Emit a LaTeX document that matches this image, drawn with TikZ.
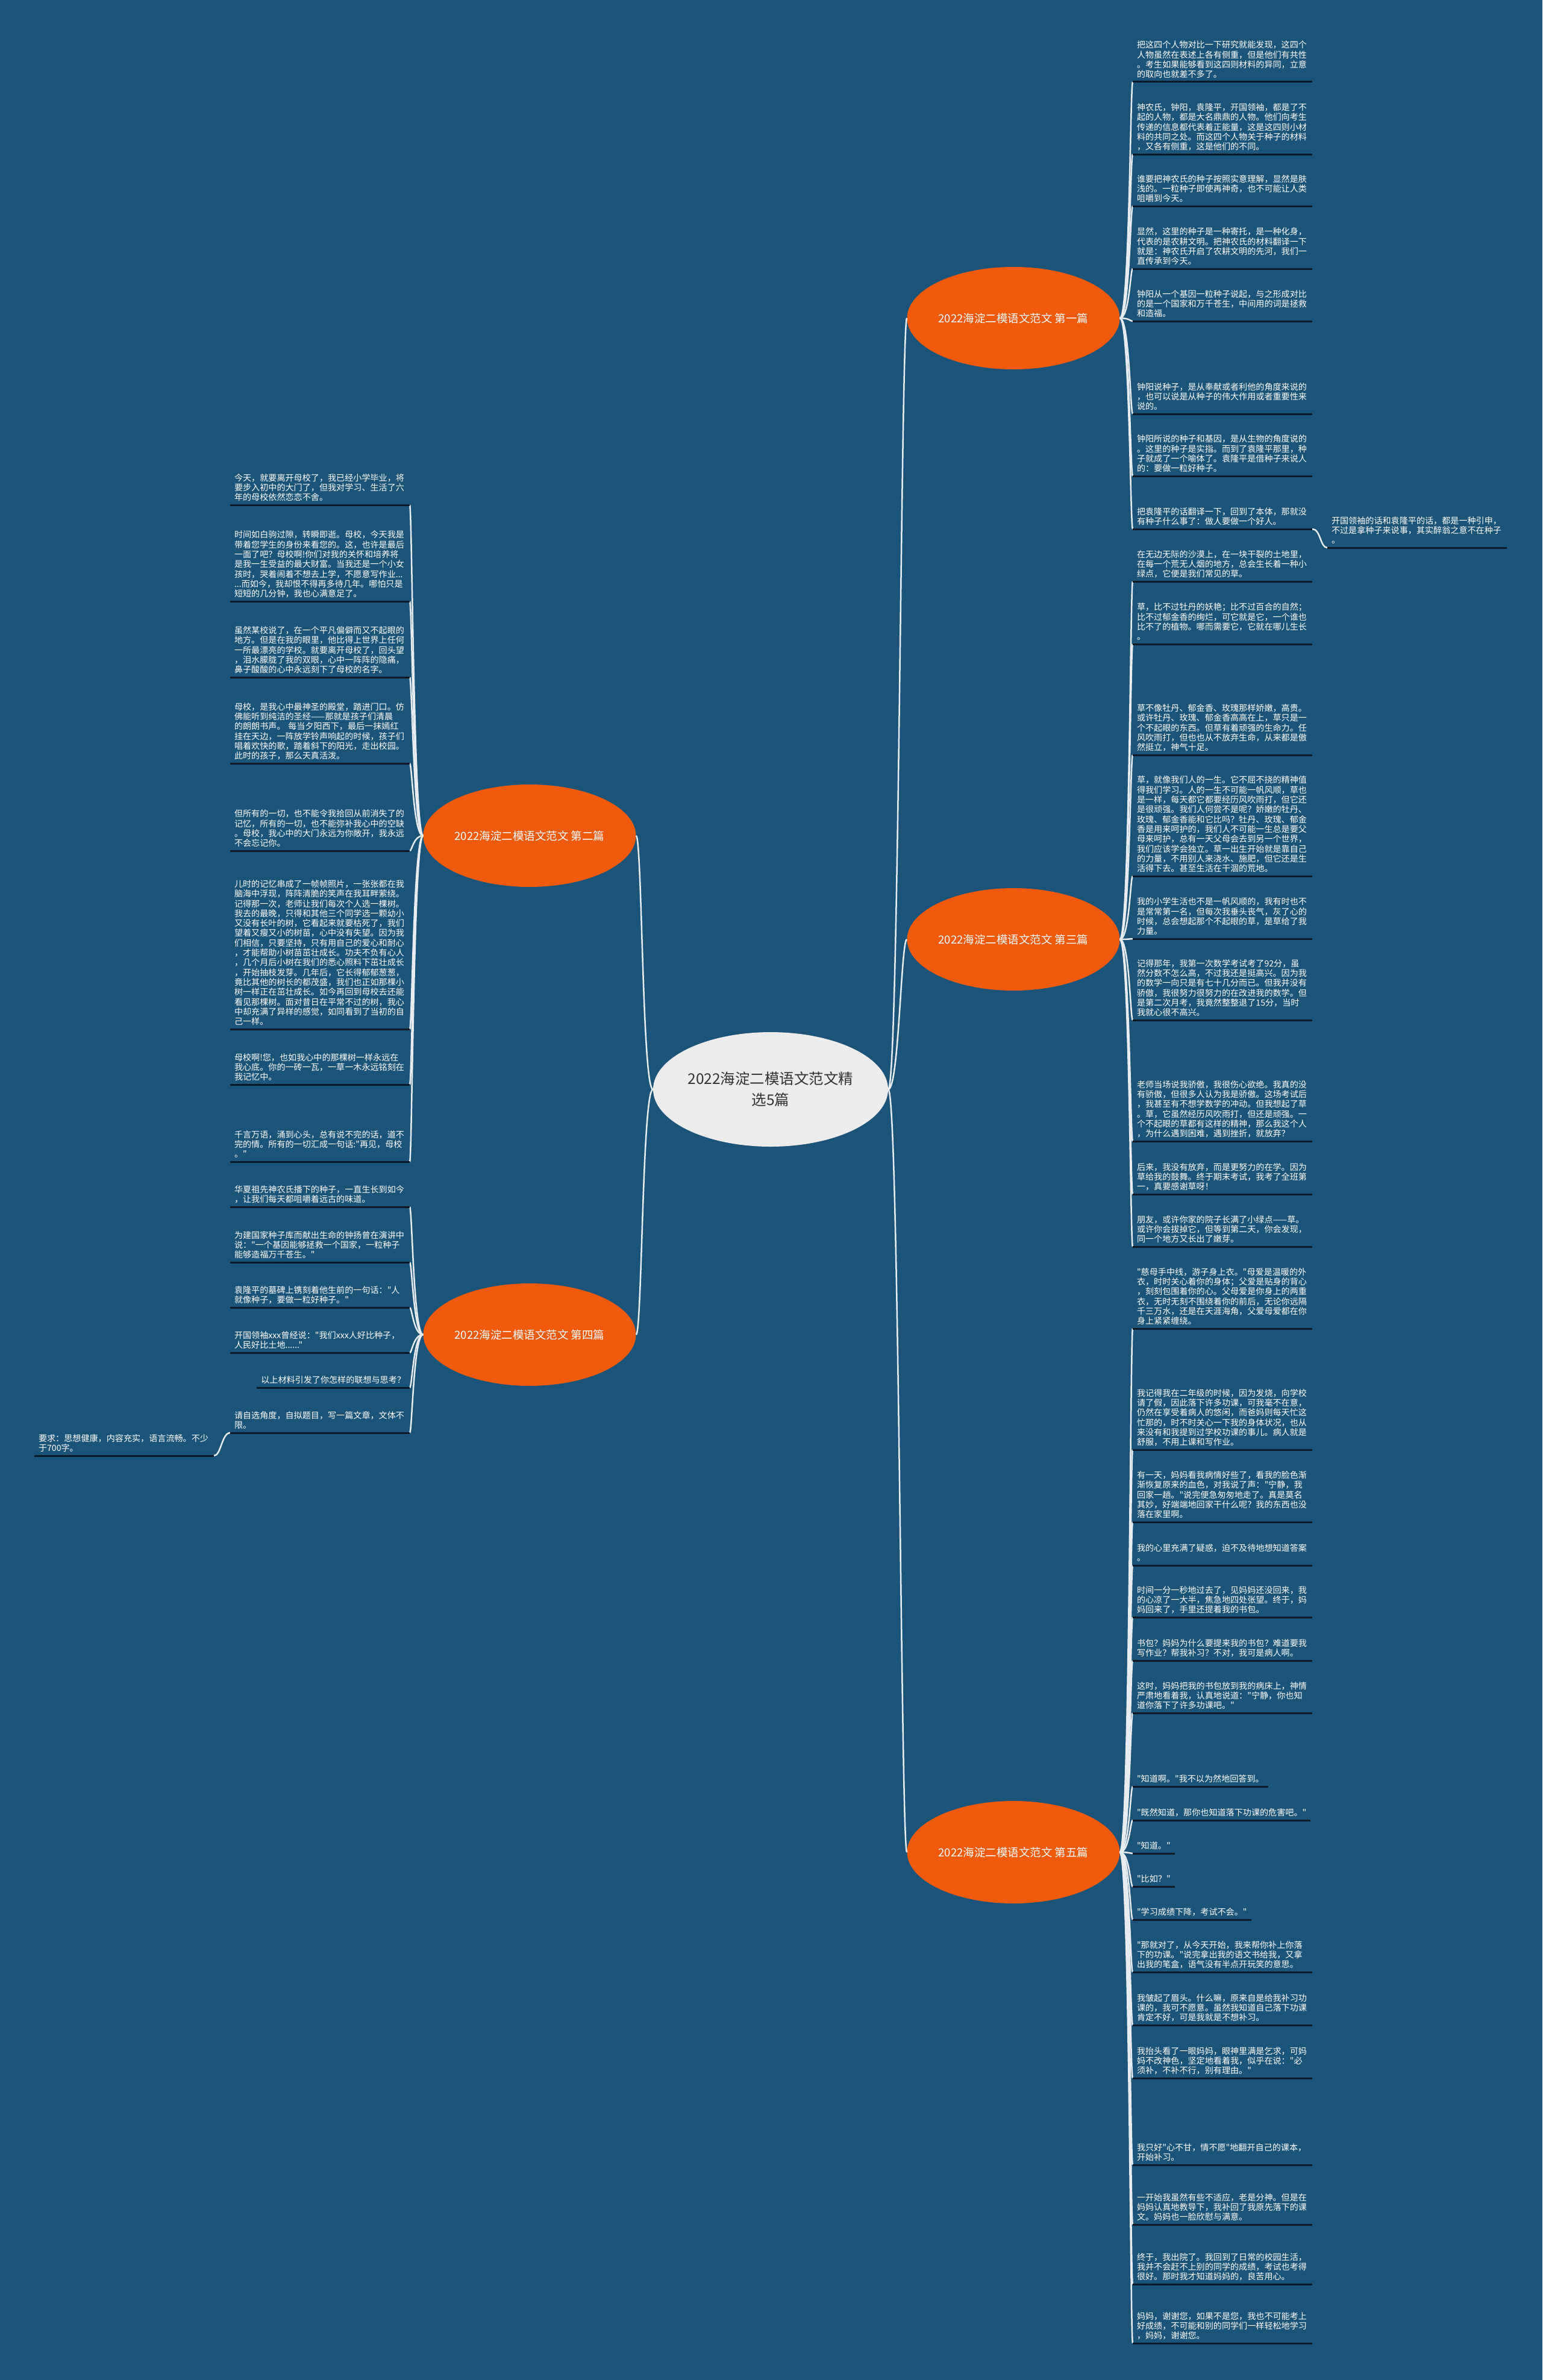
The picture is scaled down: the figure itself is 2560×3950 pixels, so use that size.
\documentclass[tikz,border=0pt]{standalone}
\usepackage{fontspec}
\newfontfamily\cjk{Noto Sans CJK SC}
\usetikzlibrary{shapes.geometric}
\definecolor{bg}{RGB}{27,84,120}
\definecolor{org}{RGB}{240,90,12}
\definecolor{cgray}{RGB}{236,236,236}
\definecolor{ulc}{RGB}{12,26,38}
\definecolor{cnc}{RGB}{230,236,240}
\begin{document}
\begin{tikzpicture}[x=1pt,y=-1pt,
 leafbase/.style={inner xsep=7pt, inner ysep=2.5pt, outer sep=0pt, align=left, text=white, font=\cjk\fontsize{14.1}{16.3}\selectfont, execute at end node=\strut},
 rl/.style={leafbase, text width=284pt, anchor=south west},
 rls/.style={leafbase, anchor=south west},
 ll/.style={leafbase, text width=284pt, anchor=south east},
 lls/.style={leafbase, anchor=south east},
 sect/.style={ellipse, fill=org, minimum width=353pt, minimum height=170pt, inner sep=0pt, text=white, font=\cjk\fontsize{18.5}{22}\selectfont},
 hub/.style={ellipse, fill=cgray, minimum width=390pt, minimum height=190pt, inner sep=0pt, text=black!80, align=center, font=\cjk\fontsize{24.5}{35}\selectfont},
 ul/.style={draw=ulc, line width=3pt},
 cn/.style={draw=cnc, line width=2.5pt},
]
\fill[bg] (0,0) rectangle (2560,3950);
\useasboundingbox (0,0) rectangle (2560,3950);

% hub and sections
\node[hub] (c) at (1279,1808) {2022海淀二模语文范文精\\选5篇};
\node[sect] (s1) at (1682,528) {2022海淀二模语文范文 第一篇};
\node[sect] (s3) at (1682,1559) {2022海淀二模语文范文 第三篇};
\node[sect] (s5) at (1682,3074) {2022海淀二模语文范文 第五篇};
\node[sect] (s2) at (879,1387) {2022海淀二模语文范文 第二篇};
\node[sect] (s4) at (879,2215) {2022海淀二模语文范文 第四篇};

% section 1 leaves
\node[rl] (r1) at (1880,136) {把这四个人物对比一下研究就能发现，这四个\\人物虽然在表述上各有侧重，但是他们有共性\\。考生如果能够看到这四则材料的异同，立意\\的取向也就差不多了。};
\node[rl] (r2) at (1880,256) {神农氏，钟阳，袁隆平，开国领袖，都是了不\\起的人物，都是大名鼎鼎的人物。他们向考生\\传递的信息都代表着正能量，这是这四则小材\\料的共同之处。而这四个人物关于种子的材料\\，又各有侧重，这是他们的不同。};
\node[rl] (r3) at (1880,342) {谁要把神农氏的种子按照实意理解，显然是肤\\浅的。一粒种子即使再神奇，也不可能让人类\\咀嚼到今天。};
\node[rl] (r4) at (1880,446) {显然，这里的种子是一种寄托，是一种化身，\\代表的是农耕文明。把神农氏的材料翻译一下\\就是：神农氏开启了农耕文明的先河，我们一\\直传承到今天。};
\node[rl] (r5) at (1880,533) {钟阳从一个基因一粒种子说起，与之形成对比\\的是一个国家和万千苍生，中间用的词是拯救\\和造福。};
\node[rl] (r6) at (1880,687) {钟阳说种子，是从奉献或者利他的角度来说的\\，也可以说是从种子的伟大作用或者重要性来\\说的。};
\node[rl] (r7) at (1880,790) {钟阳所说的种子和基因，是从生物的角度说的\\。这里的种子是实指。而到了袁隆平那里，种\\子就成了一个喻体了。袁隆平是借种子来说人\\的：要做一粒好种子。};
\node[rl] (r8) at (1880,878) {把袁隆平的话翻译一下，回到了本体，那就没\\有种子什么事了：做人要做一个好人。};
\node[rl] (fr) at (2203,909) {开国领袖的话和袁隆平的话，都是一种引申，\\不过是拿种子来说事，其实醉翁之意不在种子\\。};

% section 3 leaves
\node[rl] (r9) at (1880,965) {在无边无际的沙漠上，在一块干裂的土地里，\\在每一个荒无人烟的地方，总会生长着一种小\\绿点，它便是我们常见的草。};
\node[rl] (r10) at (1880,1069) {草，比不过牡丹的妖艳；比不过百合的自然；\\比不过郁金香的绚烂，可它就是它，一个谁也\\比不了的植物。哪而需要它，它就在哪儿生长\\。};
\node[rl] (r11) at (1880,1253) {草不像牡丹、郁金香、玫瑰那样娇嫩，高贵。\\或许牡丹、玫瑰、郁金香高高在上，草只是一\\个不起眼的东西。但草有着顽强的生命力。任\\风吹雨打，但也也从不放弃生命，从来都是傲\\然挺立，神气十足。};
\node[rl] (r12) at (1880,1454) {草，就像我们人的一生。它不屈不挠的精神值\\得我们学习。人的一生不可能一帆风顺，草也\\是一样，每天都它都要经历风吹雨打，但它还\\是很顽强。我们人何尝不是呢？娇嫩的牡丹、\\玫瑰、郁金香能和它比吗？牡丹、玫瑰、郁金\\香是用来呵护的，我们人不可能一生总是要父\\母来呵护，总有一天父母会去到另一个世界，\\我们应该学会独立。草一出生开始就是靠自己\\的力量，不用别人来浇水、施肥，但它还是生\\活得下去。甚至生活在干涸的荒地。};
\node[rl] (r13) at (1880,1558) {我的小学生活也不是一帆风顺的，我有时也不\\是常常第一名，但每次我垂头丧气，灰了心的\\时候，总会想起那个不起眼的草，是草给了我\\力量。};
\node[rl] (r14) at (1880,1693) {记得那年，我第一次数学考试考了92分，虽\\然分数不怎么高，不过我还是挺高兴。因为我\\的数学一向只是有七十几分而已。但我并没有\\骄傲，我很努力很努力的在改进我的数学。但\\是第二次月考，我竟然整整退了15分，当时\\我就心很不高兴。};
\node[rl] (r15) at (1880,1894) {老师当场说我骄傲，我很伤心欲绝。我真的没\\有骄傲，但很多人认为我是骄傲。这场考试后\\，我甚至有不想学数学的冲动。但我想起了草\\。草，它虽然经历风吹雨打，但还是顽强。一\\个不起眼的草都有这样的精神，那么我这个人\\，为什么遇到困难，遇到挫折，就放弃？};
\node[rl] (r16) at (1880,1982) {后来，我没有放弃，而是更努力的在学。因为\\草给我的鼓舞。终于期末考试，我考了全班第\\一，真要感谢草呀！};
\node[rl] (r17) at (1880,2069) {朋友，或许你家的院子长满了小绿点——草。\\或许你会拔掉它，但等到第二天，你会发现，\\同一个地方又长出了嫩芽。};

% section 5 leaves
\node[rl] (r18) at (1880,2205) {"慈母手中线，游子身上衣。"母爱是温暖的外\\衣，时时关心着你的身体；父爱是贴身的背心\\，刻刻包围着你的心。父母爱是你身上的两重\\衣，无时无刻不围绕着你的前后，无论你远隔\\千三万水，还是在天涯海角，父爱母爱都在你\\身上紧紧缠绕。};
\node[rl] (r19) at (1880,2406) {我记得我在二年级的时候，因为发烧，向学校\\请了假，因此落下许多功课，可我毫不在意，\\仍然在享受着病人的悠闲，而爸妈则每天忙这\\忙那的，时不时关心一下我的身体状况，也从\\来没有和我提到过学校功课的事儿。病人就是\\舒服，不用上课和写作业。};
\node[rl] (r20) at (1880,2526) {有一天，妈妈看我病情好些了，看我的脸色渐\\渐恢复原来的血色，对我说了声："宁静，我\\回家一趟。"说完便急匆匆地走了。真是莫名\\其妙，好端端地回家干什么呢？我的东西也没\\落在家里啊。};
\node[rl] (r21) at (1880,2598) {我的心里充满了疑惑，迫不及待地想知道答案\\。};
\node[rl] (r22) at (1880,2684) {时间一分一秒地过去了，见妈妈还没回来，我\\的心凉了一大半，焦急地四处张望。终于，妈\\妈回来了，手里还提着我的书包。};
\node[rl] (r23) at (1880,2756) {书包？妈妈为什么要提来我的书包？难道要我\\写作业？帮我补习？不对，我可是病人啊。};
\node[rl] (r24) at (1880,2843) {这时，妈妈把我的书包放到我的病床上，神情\\严肃地看着我，认真地说道："宁静，你也知\\道你落下了许多功课吧。"};
\node[rls] (r25) at (1880,2965) {"知道啊。"我不以为然地回答到。};
\node[rls] (r26) at (1880,3021) {"既然知道，那你也知道落下功课的危害吧。"};
\node[rls] (r27) at (1880,3076) {"知道。"};
\node[rls] (r28) at (1880,3131) {"比如？"};
\node[rls] (r29) at (1880,3186) {"学习成绩下降，考试不会。"};
\node[rl] (r30) at (1880,3273) {"那就对了，从今天开始，我来帮你补上你落\\下的功课。"说完拿出我的语文书给我，又拿\\出我的笔盒，语气没有半点开玩笑的意思。};
\node[rl] (r31) at (1880,3361) {我皱起了眉头。什么嘛，原来自是给我补习功\\课的，我可不愿意。虽然我知道自己落下功课\\肯定不好，可是我就是不想补习。};
\node[rl] (r32) at (1880,3449) {我抬头看了一眼妈妈，眼神里满是乞求，可妈\\妈不改神色，坚定地看着我，似乎在说："必\\须补，不补不行，别有理由。"};
\node[rl] (r33) at (1880,3593) {我只好"心不甘，情不愿"地翻开自己的课本，\\开始补习。};
\node[rl] (r34) at (1880,3692) {一开始我虽然有些不适应，老是分神。但是在\\妈妈认真地教导下，我补回了我原先落下的课\\文。妈妈也一脸欣慰与满意。};
\node[rl] (r35) at (1880,3791) {终于，我出院了。我回到了日常的校园生活，\\我并不会赶不上别的同学的成绩，考试也考得\\很好。那时我才知道妈妈的，良苦用心。};
\node[rl] (r36) at (1880,3889) {妈妈，谢谢您，如果不是您，我也不可能考上\\好成绩，不可能和别的同学们一样轻松地学习\\，妈妈，谢谢您。};

% section 2 leaves
\node[ll] (l1) at (680,838) {今天，就要离开母校了，我已经小学毕业，将\\要步入初中的大门了，但我对学习、生活了六\\年的母校依然恋恋不舍。};
\node[ll] (l2) at (680,998) {时间如白驹过隙，转瞬即逝。母校，今天我是\\带着您学生的身份来看您的。这，也许是最后\\一面了吧？母校啊!你们对我的关怀和培养将\\是我一生受益的最大财富。当我还是一个小女\\孩时，哭着闹着不想去上学，不愿意写作业...\\...而如今，我却恨不得再多待几年。哪怕只是\\短短的几分钟，我也心满意足了。};
\node[ll] (l3) at (680,1124) {虽然某校说了，在一个平凡偏僻而又不起眼的\\地方。但是在我的眼里，他比得上世界上任何\\一所最漂亮的学校。就要离开母校了，回头望\\，泪水朦胧了我的双眼，心中一阵阵的隐痛，\\鼻子酸酸的心中永远刻下了母校的名字。};
\node[ll] (l4) at (680,1267) {母校，是我心中最神圣的殿堂，踏进门口。仿\\佛能听到纯洁的圣经——那就是孩子们清晨\\的朗朗书声。~每当夕阳西下，最后一抹嫣红\\挂在天边，一阵放学铃声响起的时候，孩子们\\唱着欢快的歌，踏着斜下的阳光，走出校园。\\此时的孩子，那么天真活泼。};
\node[ll] (l5) at (680,1412) {但所有的一切，也不能令我拾回从前消失了的\\记忆，所有的一切，也不能弥补我心中的空缺\\。母校，我心中的大门永远为你敞开，我永远\\不会忘记你。};
\node[ll] (l6) at (680,1708) {儿时的记忆串成了一帧帧照片，一张张都在我\\脑海中浮现，阵阵清脆的笑声在我耳畔萦绕。\\记得那一次，老师让我们每次个人选一棵树。\\我去的最晚，只得和其他三个同学选一颗幼小\\又没有长叶的树，它看起来就要枯死了，我们\\望着又瘦又小的树苗，心中没有失望。因为我\\们相信，只要坚持，只有用自己的爱心和耐心\\，才能帮助小树苗茁壮成长。功夫不负有心人\\，几个月后小树在我们的悉心照料下茁壮成长\\，开始抽枝发芽。几年后，它长得郁郁葱葱，\\竟比其他的树长的都茂盛，我们也正如那棵小\\树一样正在茁壮成长。如今再回到母校去还能\\看见那棵树。面对昔日在平常不过的树，我心\\中却充满了异样的感觉，如同看到了当初的自\\己一样。};
\node[ll] (l7) at (680,1800) {母校啊!您，也如我心中的那棵树一样永远在\\我心底。你的一砖一瓦，一草一木永远铭刻在\\我记忆中。};
\node[ll] (l8) at (680,1928) {千言万语，涌到心头，总有说不完的话，道不\\完的情。所有的一切汇成一句话:"再见，母校\\。"};

% section 4 leaves
\node[ll] (l9) at (680,2003) {华夏祖先神农氏播下的种子，一直生长到如今\\，让我们每天都咀嚼着远古的味道。};
\node[ll] (l10) at (680,2095) {为建国家种子库而献出生命的钟扬曾在演讲中\\说："一个基因能够拯救一个国家，一粒种子\\能够造福万千苍生。"};
\node[ll] (l11) at (680,2170) {袁隆平的墓碑上镌刻着他生前的一句话："人\\就像种子，要做一粒好种子。"};
\node[ll] (l12) at (680,2245) {开国领袖xxx曾经说："我们xxx人好比种子，\\人民好比土地......"};
\node[lls] (l13) at (680,2303) {以上材料引发了你怎样的联想与思考？};
\node[ll] (l14) at (680,2378) {请自选角度，自拟题目，写一篇文章，文体不\\限。};
\node[ll] (fl) at (355,2416) {要求：思想健康，内容充实，语言流畅。不少\\于700字。};

% connectors hub -> sections
\foreach \s in {s1,s3,s5}
  \draw[cn] (c.east) .. controls +(18,0) and +(-10,0) .. (\s.west);
\foreach \s in {s2,s4}
  \draw[cn] (c.west) .. controls +(-18,0) and +(10,0) .. (\s.east);

% connectors sections -> leaves
\foreach \n in {r1,r2,r3,r4,r5,r6,r7,r8}
  \draw[cn] (s1.east) .. controls +(16,0) and +(-4,0) .. (\n.south west);
\foreach \n in {r9,r10,r11,r12,r13,r14,r15,r16,r17}
  \draw[cn] (s3.east) .. controls +(16,0) and +(-4,0) .. (\n.south west);
\foreach \n in {r18,r19,r20,r21,r22,r23,r24,r25,r26,r27,r28,r29,r30,r31,r32,r33,r34,r35,r36}
  \draw[cn] (s5.east) .. controls +(16,0) and +(-4,0) .. (\n.south west);
\foreach \n in {l1,l2,l3,l4,l5,l6,l7,l8}
  \draw[cn] (s2.west) .. controls +(-16,0) and +(4,0) .. (\n.south east);
\foreach \n in {l9,l10,l11,l12,l13,l14}
  \draw[cn] (s4.west) .. controls +(-16,0) and +(4,0) .. (\n.south east);
\draw[cn] (r8.south east) .. controls +(14,0) and +(-12,0) .. (fr.south west);
\draw[cn] (l14.south west) .. controls +(-14,0) and +(12,0) .. (fl.south east);

% underlines
\foreach \n in {r1,r2,r3,r4,r5,r6,r7,r8,fr,r9,r10,r11,r12,r13,r14,r15,r16,r17,r18,r19,r20,r21,r22,r23,r24,r25,r26,r27,r28,r29,r30,r31,r32,r33,r34,r35,r36,l1,l2,l3,l4,l5,l6,l7,l8,l9,l10,l11,l12,l13,l14,fl}
  \draw[ul] (\n.south west) -- (\n.south east);
\end{tikzpicture}
\end{document}
